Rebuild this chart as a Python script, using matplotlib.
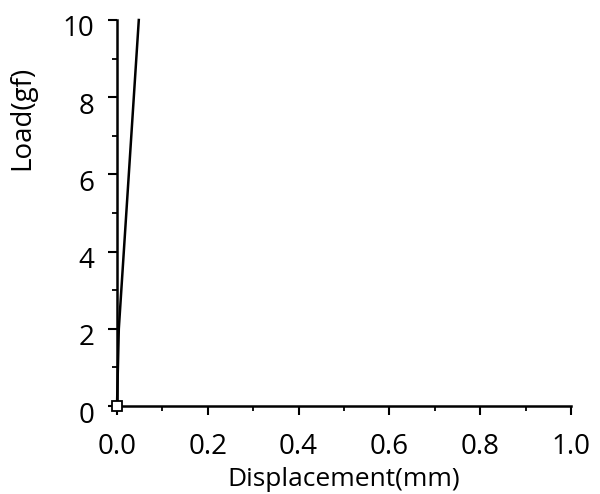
import matplotlib
matplotlib.use("Agg")
import matplotlib.pyplot as plt
from matplotlib.ticker import MultipleLocator
from matplotlib.transforms import ScaledTranslation

displacement = [0.0, 0.004, 0.048]
load = [0.0, 2.0, 10.0]
marker_x = [0.0]
marker_y = [0.0]
xticks = [0.0, 0.2, 0.4, 0.6, 0.8, 1.0]
xticklabels = ["0.0", "0.2", "0.4", "0.6", "0.8", "1.0"]
yticks = [0, 2, 4, 6, 8, 10]
yticklabels = ["0", "2", "4", "6", "8", "10"]

plt.rcParams['font.family'] = ['Open Sans', 'DejaVu Sans']

fig = plt.figure(figsize=(6.0, 4.94), dpi=100)
ax = fig.add_axes([117/600, 1 - 406/494, 454/600, 386/494])

ax.plot(displacement, load, color='black', lw=1.8, clip_on=False)
ax.plot(marker_x, marker_y, marker='s', ms=7.5, mfc='white', mec='black', mew=1.3,
        ls='none', clip_on=False, zorder=5)

ax.set_xlim(0, 1.0)
ax.set_ylim(0, 10)
ax.set_xticks(xticks)
ax.set_xticklabels(xticklabels)
ax.set_yticks(yticks)
ax.set_yticklabels(yticklabels)
ax.xaxis.set_minor_locator(MultipleLocator(0.1))
ax.yaxis.set_minor_locator(MultipleLocator(1))

for s in ['top', 'right']:
    ax.spines[s].set_visible(False)
for s in ['left', 'bottom']:
    ax.spines[s].set_linewidth(1.8)

ax.tick_params(which='major', direction='out', length=6.5, width=1.5, labelsize=20)
ax.tick_params(axis='x', which='major', pad=13)
ax.tick_params(axis='y', which='major', pad=10)
ax.tick_params(which='minor', direction='out', length=3.5, width=1.3)

shift = ScaledTranslation(0, -6/100, fig.dpi_scale_trans)
for lab in ax.get_yticklabels():
    lab.set_transform(lab.get_transform() + shift)

ax.set_xlabel("Displacement(mm)", fontsize=19, labelpad=4)
ax.set_ylabel("Load(gf)", fontsize=20, va='center')
ax.yaxis.set_label_coords(-95/454, (406 - 118)/386)

fig.savefig("out.png", dpi=100, facecolor='white')
